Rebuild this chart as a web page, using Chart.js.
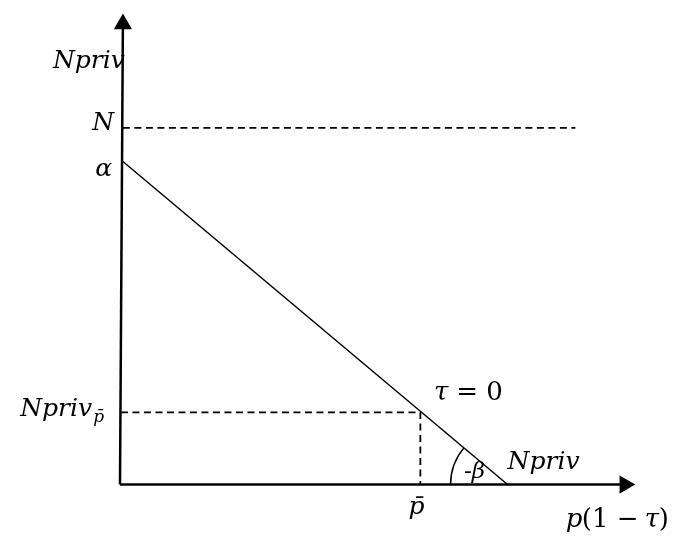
<!DOCTYPE html>
<html>
<head>
<meta charset="utf-8">
<script src="https://cdn.jsdelivr.net/npm/chart.js"></script>
<style>
  html, body { margin: 0; padding: 0; background: #fff; }
  #wrap { width: 676px; height: 546px; }
</style>
</head>
<body>
<div id="wrap"><canvas id="myChart" width="676" height="546"></canvas></div>
<script>
const ctx = document.getElementById('myChart').getContext('2d');

// diagram values (origin where the two axes meet)
const alpha = 336;      // Npriv intercept
const nLevel = 371;     // N
const priceMax = 400;   // price where Npriv = 0
const pBar = 310;
const nprivPBar = 75;

const demandX = [3, priceMax];
const demandY = [alpha, 0];
const nLineX = [3, 470];
const nLineY = [nLevel, nLevel];
const pBarX = [1, pBar, pBar];
const pBarY = [nprivPBar, nprivPBar, 0];
const yAxisX = [0, 3];
const yAxisY = [0, 479];
const xAxisX = [0, 521];
const xAxisY = [0, 0];

const toPts = (xs, ys) => xs.map((v, i) => ({ x: v, y: ys[i] }));

const mathFont = (size, italic) => `${italic ? 'italic ' : ''}${size}px "DejaVu Serif", serif`;

const labelPlugin = {
  id: 'labels',
  afterDatasetsDraw(chart) {
    const { ctx, scales: { x, y } } = chart;
    const px = v => x.getPixelForValue(v);
    const py = v => y.getPixelForValue(v);
    ctx.save();

    // angle arc at the x intercept
    const cx = px(priceMax), cy = py(0);
    const ang = Math.atan2(py(demandY[0]) - cy, px(demandX[0]) - cx);
    ctx.beginPath();
    ctx.arc(cx, cy, 57, Math.PI, ang + 2 * Math.PI);
    ctx.strokeStyle = '#000';
    ctx.lineWidth = 1.5;
    ctx.stroke();

    ctx.fillStyle = '#000';
    ctx.textBaseline = 'middle';
    const text = (str, xv, yv, align, font) => {
      ctx.font = font;
      ctx.textAlign = align;
      ctx.fillText(str, px(xv), py(yv));
      return ctx.measureText(str).width;
    };

    text('Npriv', 5, 440, 'right', mathFont(25, true));
    text('N', -6, 375, 'right', mathFont(25, true));
    text('α', -8, 328, 'right', mathFont(25, true));

    const w = text('Npriv', -103, 78, 'left', mathFont(25, true));
    ctx.font = mathFont(17, true);
    ctx.textAlign = 'left';
    ctx.fillText('p\u0304', px(-103) + w + 1, py(70));

    const wt = text('τ', 324, 95, 'left', mathFont(26, true));
    text(' = 0', 324 + wt, 95, 'left', mathFont(26, false));

    text('-β', 355, 13, 'left', mathFont(23, true));
    text('Npriv', 400, 23, 'left', mathFont(25, true));
    text('p\u0304', 306, -24, 'center', mathFont(25, true));

    const wp = text('p', 460, -37, 'left', mathFont(26, true));
    const w2 = text('(1 − ', 460 + wp, -37, 'left', mathFont(26, false));
    const w3 = text('τ', 460 + wp + w2, -37, 'left', mathFont(26, true));
    text(')', 460 + wp + w2 + w3, -37, 'left', mathFont(26, false));

    ctx.restore();
  }
};

const chartConfig = {
  type: 'scatter',
  data: {
    datasets: [
      {
        data: toPts(yAxisX, yAxisY),
        showLine: true,
        borderColor: '#000',
        borderWidth: 2.5,
        pointStyle: 'triangle',
        pointRadius: [0, 8],
        pointRotation: 0,
        backgroundColor: '#000'
      },
      {
        data: toPts(xAxisX, xAxisY),
        showLine: true,
        borderColor: '#000',
        borderWidth: 2.5,
        pointStyle: 'triangle',
        pointRadius: [0, 8],
        pointRotation: 90,
        backgroundColor: '#000'
      },
      {
        data: toPts(demandX, demandY),
        showLine: true,
        borderColor: '#000',
        borderWidth: 1.5,
        pointRadius: 0
      },
      {
        data: toPts(nLineX, nLineY),
        showLine: true,
        borderColor: '#000',
        borderWidth: 1.8,
        borderDash: [7, 4.5],
        pointRadius: 0
      },
      {
        data: toPts(pBarX, pBarY),
        showLine: true,
        borderColor: '#000',
        borderWidth: 1.8,
        borderDash: [7, 4.5],
        pointRadius: 0
      }
    ]
  },
  options: {
    responsive: false,
    animation: false,
    layout: { padding: 0 },
    plugins: { legend: { display: false }, tooltip: { enabled: false } },
    scales: {
      x: { type: 'linear', min: -113, max: 563, display: false },
      y: { type: 'linear', min: -53, max: 493, display: false }
    }
  },
  plugins: [labelPlugin]
};

const myChart = new Chart(ctx, chartConfig);
</script>
</body>
</html>
